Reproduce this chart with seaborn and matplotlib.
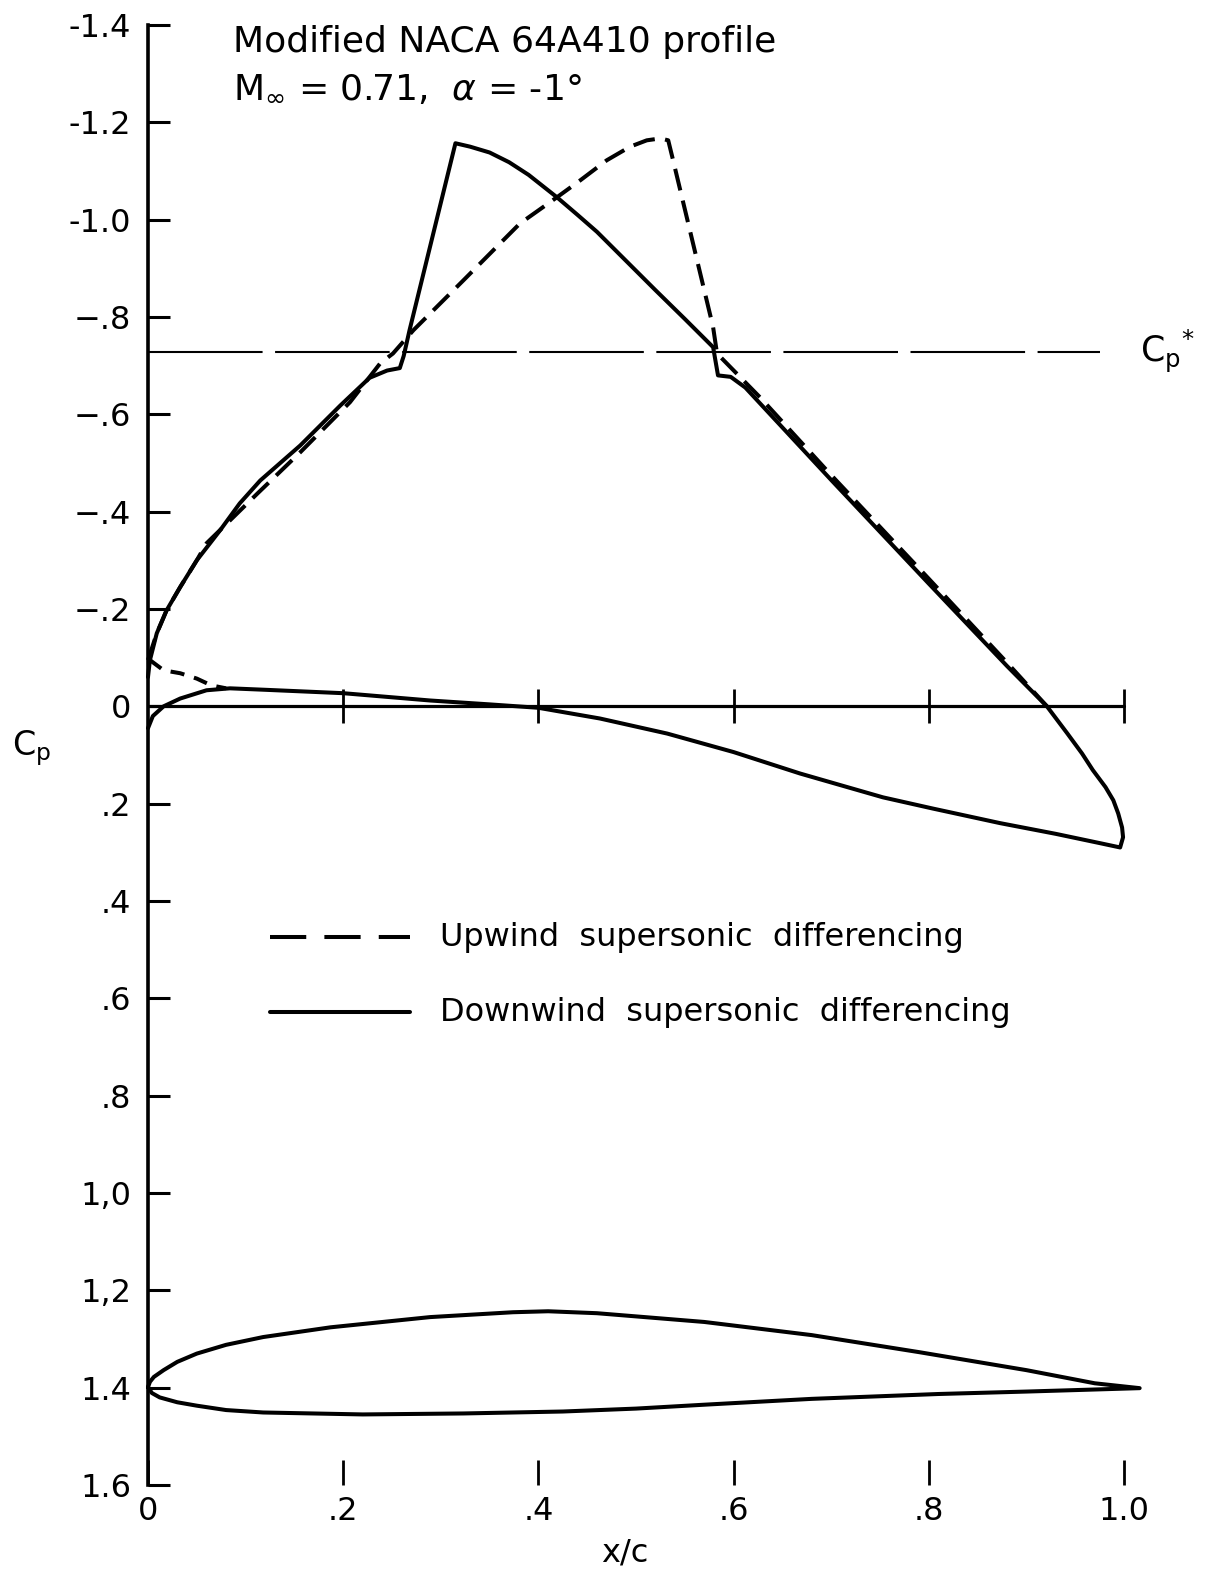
import numpy as np
import pandas as pd
import matplotlib
matplotlib.use("Agg")
import matplotlib.pyplot as plt
import seaborn as sns

# ---- pressure distributions (x/c, Cp) ----
# downwind supersonic differencing: upper surface LE -> TE
down_upper_x = [0.0, 0.002, 0.009, 0.019, 0.033, 0.05, 0.074, 0.094, 0.115, 0.156,
                0.197, 0.227, 0.245, 0.258, 0.262, 0.268, 0.315, 0.33, 0.35, 0.37,
                0.39, 0.419, 0.44, 0.46, 0.49, 0.52, 0.55, 0.579, 0.584, 0.597,
                0.612, 0.70, 0.80, 0.88, 0.921]
down_upper_cp = [-0.06, -0.095, -0.15, -0.197, -0.245, -0.30, -0.362, -0.417, -0.464, -0.536,
                 -0.618, -0.675, -0.69, -0.695, -0.72, -0.773, -1.157, -1.150, -1.138, -1.118,
                 -1.092, -1.046, -1.010, -0.975, -0.915, -0.855, -0.796, -0.738, -0.68, -0.677,
                 -0.655, -0.465, -0.252, -0.083, 0.0]
# trailing-edge closure and lower surface TE -> LE (shared by both schemes)
lower_x = [0.921, 0.942, 0.957, 0.968, 0.981, 0.989, 0.994, 0.998, 0.999, 0.996, 0.975,
           0.93, 0.873, 0.804, 0.753, 0.72, 0.668, 0.60, 0.532, 0.463, 0.40, 0.35, 0.289,
           0.2, 0.12, 0.084, 0.06, 0.033, 0.016, 0.005, 0.0]
lower_cp = [0.0, 0.056, 0.097, 0.131, 0.166, 0.193, 0.220, 0.249, 0.269, 0.290, 0.281,
            0.262, 0.240, 0.21, 0.187, 0.168, 0.138, 0.094, 0.056, 0.025, 0.003, -0.004, -0.012,
            -0.027, -0.034, -0.037, -0.033, -0.016, 0.0, 0.02, 0.045]

# upwind supersonic differencing: upper surface
up_upper_x = [0.0, 0.009, 0.019, 0.033, 0.05, 0.06, 0.084, 0.112, 0.156, 0.207, 0.238,
              0.251, 0.272, 0.323, 0.381, 0.419, 0.443, 0.47, 0.494, 0.511, 0.525, 0.533,
              0.538, 0.579, 0.583, 0.627, 0.70, 0.80, 0.88, 0.921]
up_upper_cp = [-0.095, -0.15, -0.197, -0.245, -0.30, -0.335, -0.382, -0.437, -0.522, -0.625, -0.705,
               -0.725, -0.773, -0.875, -0.992, -1.046, -1.081, -1.122, -1.150, -1.163, -1.167, -1.163,
               -1.122, -0.779, -0.725, -0.635, -0.475, -0.262, -0.09, 0.0]
# upwind scheme, lower surface near the leading edge
up_lower_x = [0.002, 0.016, 0.033, 0.05, 0.065, 0.08]
up_lower_cp = [-0.095, -0.074, -0.068, -0.057, -0.043, -0.037]

# critical pressure coefficient
cp_star = -0.728

# ---- airfoil contour, drawn on the Cp scale ----
foil_upper_x = [0.0, 0.002, 0.006, 0.016, 0.03, 0.05, 0.08, 0.118, 0.187, 0.289, 0.374,
                0.41, 0.46, 0.57, 0.68, 0.79, 0.90, 0.97, 1.016]
foil_upper_y = [1.399, 1.388, 1.378, 1.364, 1.347, 1.330, 1.312, 1.296, 1.276, 1.255, 1.245,
                1.243, 1.247, 1.265, 1.292, 1.327, 1.364, 1.391, 1.401]
foil_lower_x = [1.016, 0.90, 0.81, 0.68, 0.57, 0.50, 0.425, 0.323, 0.22, 0.118, 0.08,
                0.05, 0.03, 0.012, 0.004, 0.0]
foil_lower_y = [1.401, 1.408, 1.413, 1.423, 1.435, 1.443, 1.449, 1.453, 1.455, 1.451, 1.446,
                1.437, 1.430, 1.420, 1.411, 1.399]

# ---- axis ticks ----
y_ticks = [-1.4, -1.2, -1.0, -0.8, -0.6, -0.4, -0.2, 0.0, 0.2, 0.4, 0.6, 0.8, 1.0, 1.2, 1.4, 1.6]
y_tick_labels = ["-1.4", "-1.2", "-1.0", "\u2212.8", "\u2212.6", "\u2212.4", "\u2212.2", "0",
                 ".2", ".4", ".6", ".8", "1,0", "1,2", "1.4", "1.6"]
x_ticks = [0.0, 0.2, 0.4, 0.6, 0.8, 1.0]
x_tick_labels = ["0", ".2", ".4", ".6", ".8", "1.0"]

sns.set_theme(style="white")
plt.rcParams["font.family"] = ["DejaVu Sans"]
plt.rcParams["mathtext.fontset"] = "dejavusans"
plt.rcParams["text.color"] = "black"
plt.rcParams["axes.labelcolor"] = "black"

fig = plt.figure(figsize=(12.06, 15.70), dpi=100)
ax = fig.add_axes([0.1227, 0.05414, 0.8579, 0.92994])
ax.set_xlim(0, 1.06)
ax.set_ylim(1.6, -1.4)

LW = 2.9
DASH = (0, (5.5, 2.6))

down_df = pd.DataFrame({"x": down_upper_x + lower_x[1:], "cp": down_upper_cp + lower_cp[1:]})
sns.lineplot(data=down_df, x="x", y="cp", sort=False, estimator=None, ax=ax,
             color="black", lw=LW, solid_joinstyle="round", clip_on=False)

up_df = pd.DataFrame({"x": up_upper_x, "cp": up_upper_cp})
sns.lineplot(data=up_df, x="x", y="cp", sort=False, estimator=None, ax=ax,
             color="black", lw=LW, linestyle=DASH, clip_on=False)
up_le_df = pd.DataFrame({"x": up_lower_x, "cp": up_lower_cp})
sns.lineplot(data=up_le_df, x="x", y="cp", sort=False, estimator=None, ax=ax,
             color="black", lw=LW, linestyle=(0, (3.5, 2.5)), clip_on=False)

foil_df = pd.DataFrame({"x": foil_upper_x + foil_lower_x[1:], "y": foil_upper_y + foil_lower_y[1:]})
sns.lineplot(data=foil_df, x="x", y="y", sort=False, estimator=None, ax=ax,
             color="black", lw=LW, solid_joinstyle="round", clip_on=False)

# Cp* line
ax.plot([0.0, 0.975], [cp_star, cp_star], color="black", lw=1.5, linestyle=(0, (55, 6)))
ax.text(1.016, cp_star + 0.021, r"$\mathrm{C}_{\mathrm{p}}{}^{*}$", fontsize=25,
        ha="left", va="baseline", clip_on=False)

# Cp = 0 reference line with crossing ticks
ax.plot([0.0, 1.0], [0.0, 0.0], color="black", lw=2.3)
ax.plot(x_ticks[1:], [0.0] * (len(x_ticks) - 1), ls="none", marker="|",
        ms=25, mew=2.0, color="black")

# axes styling
for side in ["top", "right", "bottom"]:
    ax.spines[side].set_visible(False)
ax.spines["left"].set_linewidth(2.6)
ax.spines["left"].set_color("black")
ax.set_yticks(y_ticks)
ax.set_yticklabels(y_tick_labels)
ax.set_xticks(x_ticks)
ax.set_xticklabels(x_tick_labels)
ax.tick_params(axis="y", direction="in", length=16, width=2.2, pad=12,
               labelsize=23, colors="black", left=True)
ax.tick_params(axis="x", direction="in", length=18, width=2.0, pad=8,
               labelsize=23, colors="black", bottom=True)
ax.set_xlabel("x/c", fontsize=23)
ax.xaxis.set_label_coords(0.461, -0.0466)
ax.xaxis.label.set_va("center")
ax.set_ylabel("")
ax.grid(False)

ax.text(-0.139, 0.101, r"$\mathrm{C}_{\mathrm{p}}$", fontsize=24, ha="left",
        va="baseline", clip_on=False)

# heading
ax.text(0.087, -1.344, "Modified NACA 64A410 profile", fontsize=26,
        ha="left", va="baseline")
ax.text(0.087, -1.249, r"M$_{\infty}$ = 0.71,  $\alpha$ = -1°", fontsize=26,
        ha="left", va="baseline")

# key
ax.plot([0.125, 0.268], [0.475, 0.475], color="black", lw=LW, linestyle=(0, (9, 4.5)))
ax.plot([0.125, 0.268], [0.629, 0.629], color="black", lw=LW)
ax.text(0.299, 0.475, "Upwind  supersonic  differencing", fontsize=23, ha="left", va="center")
ax.text(0.299, 0.629, "Downwind  supersonic  differencing", fontsize=23, ha="left", va="center")

fig.savefig("out.png", dpi=100, facecolor="white")
